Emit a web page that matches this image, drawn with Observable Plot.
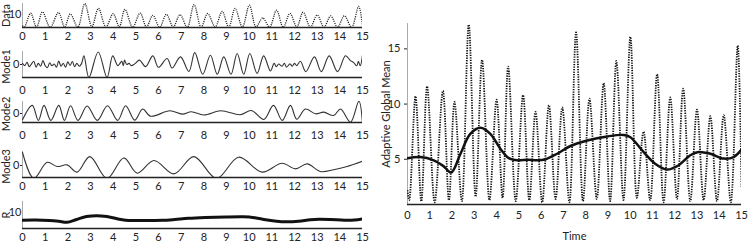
<!DOCTYPE html>
<html><head><meta charset="utf-8">
<script src="https://cdn.jsdelivr.net/npm/d3@7"></script>
<script src="https://cdn.jsdelivr.net/npm/@observablehq/plot@0.6"></script>
<style>
html,body{margin:0;padding:0;background:#fff;}
#chart{position:relative;width:749px;height:244px;overflow:hidden;background:#fff;}
</style></head><body><div id="chart"></div>
<script>
// Time axis ticks
const timeTicks = [0,1,2,3,4,5,6,7,8,9,10,11,12,13,14,15];

// Raw data (dotted series)
const dataTime  = [0,0.08,0.36,0.62,0.88,1.22,1.59,1.86,2.11,2.44,2.75,3.06,3.35,3.68,4.0,4.27,4.52,4.86,5.19,5.47,5.75,6.05,6.35,6.65,6.95,7.27,7.57,7.88,8.17,8.5,8.81,9.1,9.38,9.7,10.01,10.3,10.6,10.9,11.21,11.5,11.8,12.1,12.38,12.7,13.0,13.3,13.6,13.9,14.2,14.52,14.83,15.0];
const dataValue = [2.2,1.3,10.7,1.2,11.6,1.1,11.2,1.3,10.2,1.2,17.2,1.6,14.0,1.3,10.4,1.5,13.4,1.2,10.8,1.3,9.3,1.1,9.9,1.4,9.7,1.1,16.5,1.2,10.5,1.4,11.9,1.2,13.9,1.3,16.1,1.5,7.5,1.3,12.7,1.1,10.6,1.4,11.4,1.2,9.5,1.3,8.9,1.2,9.0,1.1,15.3,2.4];

// Mode1
const mode1Time  = [0,0.1,0.2,0.3,0.4,0.5,0.6,0.7,0.8,0.9,1.0,1.1,1.2,1.3,1.4,1.5,1.6,1.7,1.8,1.9,2.0,2.1,2.2,2.3,2.4,2.5,2.6,2.71,2.93,3.34,3.73,3.98,4.2,4.3,4.38,4.45,4.5,4.6,4.7,4.8,4.95,5.16,5.43,5.75,6.0,6.38,6.6,6.97,7.34,7.6,7.95,8.29,8.59,8.88,9.2,9.47,9.76,10.03,10.35,10.64,10.94,11.1,11.2,11.3,11.45,11.55,11.65,11.8,11.9,12.0,12.1,12.26,12.5,12.88,13.18,13.53,13.9,14.25,14.47,14.6,14.75,14.82,14.9,15.0];
const mode1Value = [0.5,-0.5,1.0,-1.0,0.3,1.5,-1.2,0.5,-0.8,1.8,-0.5,-1.5,0.8,-0.6,0.2,-1.2,1.6,-0.8,0.6,-1.3,1.2,-0.4,1.4,-1.0,0.5,-0.8,0.3,4.0,-6,5.8,-6,4.0,-0.5,0.5,1.5,-0.5,2.0,0.0,0.5,-0.5,0.3,2.0,-1.0,4.0,-1.3,2.8,-1.6,3.5,-3.2,5.5,-4.5,4.3,-4.5,3.5,-4.5,5.1,-4.5,5.1,-4.1,4.0,-3.0,0.5,-1.0,0.2,-0.8,0.5,-1.2,0.3,-0.8,0.5,-0.5,1.5,-3.3,3.5,-3.3,4.0,-3.3,4.0,1.8,1.0,-0.6,1.5,-0.6,4.3];

// Mode2
const mode2Time  = [0,0.43,0.7,0.95,1.25,1.6,1.85,2.12,2.45,2.85,3.3,3.75,4.2,4.55,4.95,5.3,5.65,6.5,7.05,7.45,8.0,8.75,9.6,10.1,10.65,11.07,11.46,11.82,12.1,12.48,12.93,13.29,13.73,14.03,14.47,14.84,15.0];
const mode2Value = [-2.1,2.7,-2.3,2.7,-2.3,2.7,-2.3,2.6,-2.3,2.5,-2.3,2.6,-2.3,2.6,-2.2,1.5,-0.9,0.9,-0.2,0.6,-0.5,0.9,-0.4,1.0,-2.0,2.7,-2.3,2.7,-1.9,1.5,-0.1,0.45,-0.67,1.5,-2.9,4.1,-3.3];

// Mode3
const mode3Time  = [0,0.5,1.09,1.53,1.97,2.41,2.97,3.73,4.47,5.06,5.8,6.68,7.56,8.56,9.54,10.57,11.45,12.04,12.56,13.14,13.73,14.32,15.0];
const mode3Value = [4.4,-4.3,1.1,-0.33,0.22,-2.2,3.0,-4.3,2.55,-2.55,1.67,-2.8,3.0,-4.3,2.8,-2.2,0.78,-1.1,0.55,-2.0,-1.4,-0.33,1.44];

// Residual / adaptive global mean
const meanTime  = [0,0.58,1.18,1.6,1.96,2.38,2.82,3.28,3.72,4.17,4.55,4.93,5.4,5.83,6.2,6.72,7.32,8.07,8.97,9.71,10.01,10.6,11.12,11.66,12.18,12.7,13.07,13.6,14.2,14.65,15];
const meanValue = [5.1,5.2,4.9,4.4,3.8,5.5,7.3,7.85,7.3,5.96,5.1,4.9,4.95,4.9,5.0,5.5,6.2,6.7,7.07,7.2,7.0,5.66,4.6,4.07,4.46,5.36,5.66,5.5,5.06,5.2,5.87];

const rows = (ts, vs) => ts.map((t, i) => ({t, v: vs[i]}));
const dataRows = rows(dataTime, dataValue);
const mode1Rows = rows(mode1Time, mode1Value);
const mode2Rows = rows(mode2Time, mode2Value);
const mode3Rows = rows(mode3Time, mode3Value);
const meanRows = rows(meanTime, meanValue);

const W = 749, H = 244;
const baseStyle = {position: "absolute", left: "0px", top: "0px", background: "transparent",
  overflow: "visible", fontFamily: "Lato, 'Open Sans', sans-serif", fontSize: "11px", color: "#222"};

function panel({top, bottom, left, right, yDomain, yTicks, ySize = 2, yPad = 1, xPad, marks}) {
  return Plot.plot({
    width: W, height: H,
    marginTop: top, marginBottom: H - bottom, marginLeft: left, marginRight: W - right,
    style: baseStyle,
    x: {domain: [0, 15], ticks: timeTicks, tickSize: 0, tickPadding: xPad, label: null, tickFormat: d => String(d)},
    y: {domain: yDomain, ticks: yTicks, tickSize: ySize, tickPadding: yPad, label: null, tickFormat: d => String(d)},
    marks: [
      Plot.ruleX([0], {stroke: "#aaa", strokeWidth: 1}),
      ...marks,
      Plot.ruleY([yDomain[0]], {stroke: "#222", strokeWidth: 1.5})
    ]
  });
}

function sideLabel(txt, dx, dy = 0) {
  return Plot.text([txt], {text: d => d, frameAnchor: "left", dx, dy, rotate: -90, textAnchor: "middle", lineAnchor: "middle", fontSize: 11, fill: "#222"});
}

const L = 22, R = 362;
const chart = document.getElementById("chart");

chart.append(panel({top: 3, bottom: 27, left: L, right: R, yDomain: [1, 17.3], yTicks: [10], ySize: 0, yPad: 1, xPad: 5,
  marks: [
    Plot.line(dataRows, {x: "t", y: "v", curve: "catmull-rom", stroke: "#222", strokeWidth: 1.3, strokeDasharray: "1.1,1.1", strokeLinecap: "butt", clip: true}),
    sideLabel("Data", -16)
  ]}));

chart.append(panel({top: 51, bottom: 77, left: L, right: R, yDomain: [-6, 6], yTicks: [0], xPad: 9,
  marks: [
    Plot.line(mode1Rows, {x: "t", y: "v", curve: "catmull-rom", stroke: "#333", strokeWidth: 1.1, clip: true}),
    sideLabel("Mode1", -16, 2)
  ]}));

chart.append(panel({top: 101, bottom: 122, left: L, right: R, yDomain: [-3, 4], yTicks: [0], xPad: 9,
  marks: [
    Plot.line(mode2Rows, {x: "t", y: "v", curve: "catmull-rom", stroke: "#333", strokeWidth: 1.1, clip: true}),
    sideLabel("Mode2", -16, 2)
  ]}));

chart.append(panel({top: 151, bottom: 177, left: L, right: R, yDomain: [-4, 4.7], yTicks: [0], xPad: 5,
  marks: [
    Plot.line(mode3Rows, {x: "t", y: "v", curve: "catmull-rom", stroke: "#333", strokeWidth: 1.1, clip: true}),
    sideLabel("Mode3", -16, 2)
  ]}));

chart.append(panel({top: 201, bottom: 228, left: L, right: R, yDomain: [0, 16.5], yTicks: [10], ySize: 0, yPad: 1, xPad: 5,
  marks: [
    Plot.line(meanRows, {x: "t", y: "v", curve: "catmull-rom", stroke: "#111", strokeWidth: 3, clip: true}),
    sideLabel("R", -16)
  ]}));

chart.append(panel({top: 23, bottom: 204, left: 407, right: 741, yDomain: [0.9, 17.3], yTicks: [5, 10, 15], ySize: 3, yPad: 4, xPad: 7,
  marks: [
    Plot.line(dataRows, {x: "t", y: "v", curve: "catmull-rom", stroke: "#111", strokeWidth: 1.8, strokeDasharray: "1.3,1.2", strokeLinecap: "butt", clip: true}),
    Plot.line(meanRows, {x: "t", y: "v", curve: "catmull-rom", stroke: "#111", strokeWidth: 2.5, clip: true}),
    sideLabel("Adaptive Global Mean", -21),
    Plot.text(["Time"], {text: d => d, frameAnchor: "bottom", dy: 32, textAnchor: "middle", lineAnchor: "middle", fontSize: 11, fill: "#222"})
  ]}));
</script>
</body></html>
